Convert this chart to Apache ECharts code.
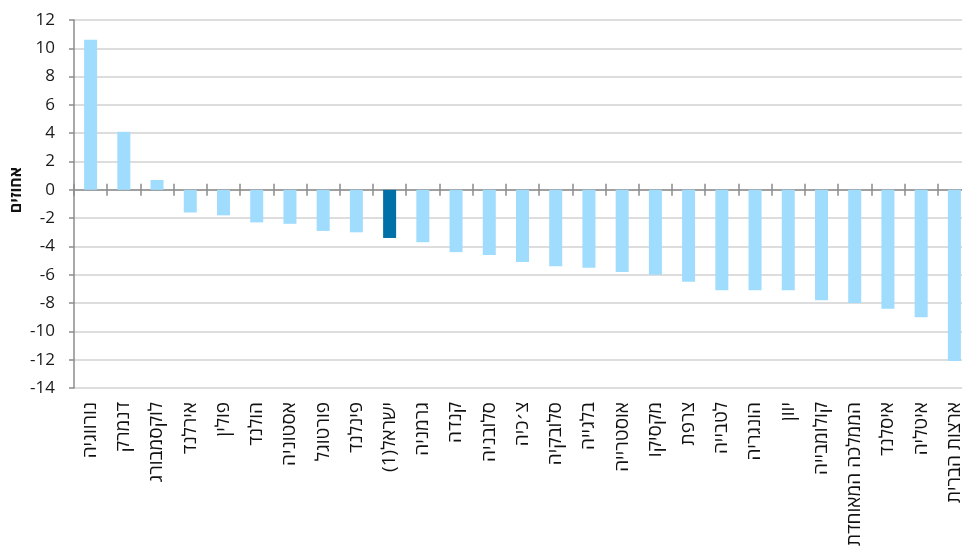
<!DOCTYPE html>
<html><head><meta charset="utf-8">
<script src="https://cdn.jsdelivr.net/npm/echarts@6/dist/echarts.min.js"></script>
<style>html,body{margin:0;padding:0;background:#fff}#c{width:962px;height:560px}</style>
</head><body><div id="c"></div>
<script>
const categories = ['נורווגיה','דנמרק','לוקסמבורג','אירלנד','פולין','הולנד','אסטוניה','פורטוגל','פינלנד','ישראל(1)','גרמניה','קנדה','סלובניה','צ׳כיה','סלובקיה','בלגייה','אוסטרייה','מקסיקו','צרפת','לטבייה','הונגריה','יוון','קולומבייה','הממלכה המאוחדת','איסלנד','איטליה','ארצות הברית'];
const values = [10.6,4.1,0.7,-1.6,-1.8,-2.3,-2.4,-2.9,-3.0,-3.4,-3.7,-4.4,-4.6,-5.1,-5.4,-5.5,-5.8,-6.0,-6.5,-7.1,-7.1,-7.1,-7.8,-8.0,-8.4,-9.0,-12.1];
const highlightCategory = 'ישראל(1)';
const yMin = -14, yMax = 12, yStep = 2;
const yTitle = 'אחוזים';

const FONT = "'Open Sans', 'DejaVu Sans', sans-serif";
const AXIS_GRAY = '#8c8c8c';
const chart = echarts.init(document.getElementById('c'));
chart.setOption({
  animation: false,
  grid: { left: 74, top: 20, width: 897, height: 368, containLabel: false, outerBoundsMode: 'none' },
  xAxis: [
    { type: 'category', data: categories, position: 'bottom',
      axisLine: { show: true, onZero: true, onZeroAxisIndex: 0, lineStyle: { color: AXIS_GRAY, width: 1.5 } },
      axisTick: { show: true, interval: 0, length: 6, lineStyle: { color: AXIS_GRAY, width: 1.5 } },
      axisLabel: { show: false }, splitLine: { show: false } },
    { type: 'category', data: categories, position: 'top',
      axisLine: { show: false, onZero: true, onZeroAxisIndex: 0 },
      axisTick: { show: true, interval: 0, length: 6, lineStyle: { color: AXIS_GRAY, width: 1.5 } },
      axisLabel: { show: false }, splitLine: { show: false } },
    { type: 'category', data: categories, position: 'bottom',
      axisLine: { show: false, onZero: false }, axisTick: { show: false },
      axisLabel: { show: true, interval: 0, rotate: 90, margin: 14, fontSize: 19, color: '#111', fontFamily: FONT,
        formatter: v => '\u202B' + v + '\u202C' },
      splitLine: { show: false } }
  ],
  yAxis: {
    type: 'value', min: yMin, max: yMax, interval: yStep,
    name: yTitle, nameLocation: 'middle', nameRotate: 90, nameGap: 50, nameMoveOverlap: false,
    nameTextStyle: { fontSize: 16, fontWeight: 'bold', color: '#111', fontFamily: FONT, padding: [0, 0, 0, 28] },
    axisLine: { show: true, onZero: false, lineStyle: { color: AXIS_GRAY, width: 1.5 } },
    axisTick: { show: true, length: 5, lineStyle: { color: AXIS_GRAY, width: 1.5 } },
    axisLabel: { fontSize: 17, color: '#1a1a1a', margin: 19, fontFamily: FONT },
    splitLine: { show: true, lineStyle: { color: '#d2d2d2', width: 1.5 } }
  },
  series: [{
    type: 'bar', xAxisIndex: 0, barWidth: 13,
    data: values.map((v, i) => ({ value: v, itemStyle: { color: categories[i] === highlightCategory ? '#0070a8' : '#9fdcfe' } }))
  }]
});
</script></body></html>
